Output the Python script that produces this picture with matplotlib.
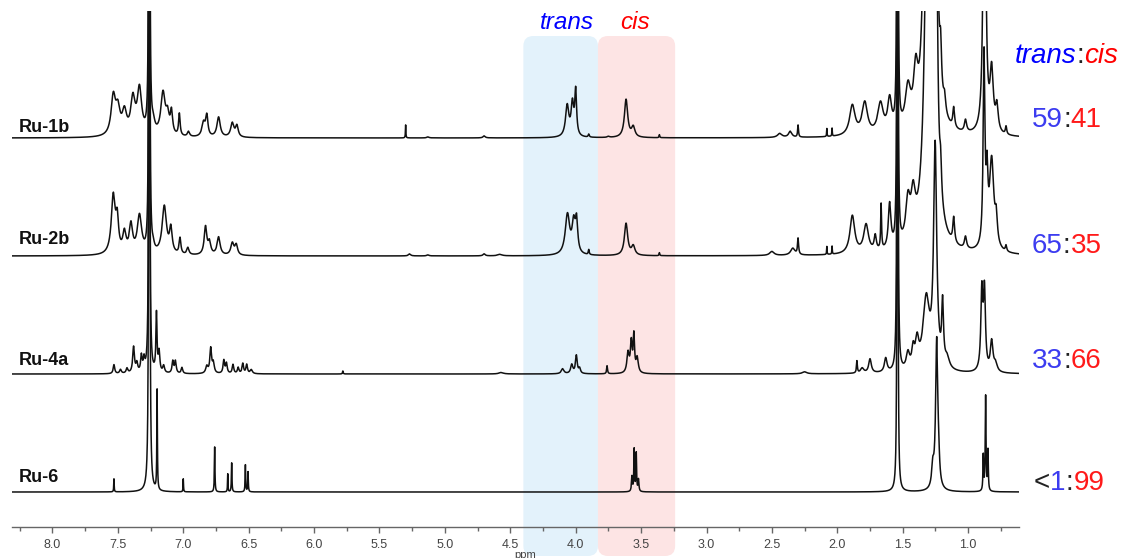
import numpy as np
import matplotlib
matplotlib.use("Agg")
import matplotlib.pyplot as plt
from matplotlib.patches import FancyBboxPatch
from matplotlib.ticker import MultipleLocator, FormatStrFormatter

plt.rcParams['font.family'] = ['Liberation Sans', 'DejaVu Sans']

# peak tables: shift (ppm), height (px above baseline), half width (ppm)
ru1b_ppm = [7.535, 7.50, 7.45, 7.385, 7.335, 7.26, 7.23, 7.155, 7.12, 7.09, 7.03, 6.96,
            6.845, 6.82, 6.73, 6.625, 6.59, 5.30, 5.13, 4.70, 4.065, 4.025, 4.000, 3.90, 3.75, 3.615,
            3.56, 3.36, 2.44, 2.36, 2.30, 2.08, 2.04, 1.885, 1.79, 1.67, 1.60, 1.54, 1.46, 1.40, 1.34,
            1.30, 1.255, 1.21, 1.18, 1.11, 1.02, 0.875, 0.82, 0.78, 0.71]
ru1b_height = [38, 24, 22, 35, 45, 4000, 10, 42, 18, 22, 22, 5,
               14, 20, 20, 14, 11, 13, 1, 2, 31, 32, 44, 3, 1, 38,
               10, 3, 4, 6, 12, 8, 8, 30, 32, 30, 32, 4000, 40, 50, 100,
               300, 500, 40, 15, 20, 12, 400, 60, 25, 8]
ru1b_width = [0.020, 0.020, 0.020, 0.020, 0.020, 0.0015, 0.015, 0.020, 0.015, 0.010, 0.007, 0.010,
              0.015, 0.010, 0.015, 0.015, 0.012, 0.002, 0.01, 0.01, 0.015, 0.012, 0.008, 0.005, 0.01, 0.015,
              0.015, 0.003, 0.02, 0.015, 0.004, 0.002, 0.002, 0.025, 0.025, 0.025, 0.018, 0.0015, 0.025, 0.02, 0.02,
              0.02, 0.015, 0.008, 0.01, 0.008, 0.01, 0.01, 0.015, 0.012, 0.006]

ru2b_ppm = [7.535, 7.505, 7.45, 7.40, 7.335, 7.26, 7.23, 7.145, 7.095, 7.025, 6.965,
            6.83, 6.80, 6.73, 6.625, 6.595, 5.27, 5.13, 4.70, 4.58, 4.063, 4.015, 3.993, 3.90, 3.615,
            3.56, 3.36, 2.50, 2.34, 2.30, 2.08, 2.04, 1.885, 1.78, 1.71, 1.665, 1.60, 1.54, 1.46, 1.42,
            1.30, 1.25, 1.21, 1.11, 1.02, 0.878, 0.855, 0.82, 0.785, 0.71]
ru2b_height = [58, 30, 20, 28, 38, 4000, 5, 48, 24, 16, 7,
               28, 12, 18, 12, 10, 2, 1, 2, 1.5, 40, 30, 30, 5, 32,
               9, 3, 4, 7, 16, 8, 8, 38, 28, 15, 45, 45, 4000, 40, 40,
               600, 600, 30, 25, 12, 190, 60, 90, 25, 6]
ru2b_width = [0.018, 0.012, 0.015, 0.015, 0.020, 0.0015, 0.010, 0.020, 0.012, 0.008, 0.010,
              0.012, 0.012, 0.014, 0.014, 0.012, 0.01, 0.01, 0.01, 0.02, 0.020, 0.015, 0.010, 0.004, 0.015,
              0.015, 0.003, 0.02, 0.02, 0.005, 0.002, 0.002, 0.022, 0.022, 0.01, 0.004, 0.012, 0.0015, 0.02, 0.02,
              0.025, 0.01, 0.008, 0.008, 0.01, 0.008, 0.008, 0.02, 0.01, 0.006]

ru4a_ppm = [7.53, 7.48, 7.43, 7.38, 7.355, 7.32, 7.30, 7.26, 7.205, 7.185, 7.15, 7.08, 7.06, 7.01, 6.82,
            6.79, 6.77, 6.69, 6.67, 6.62, 6.58, 6.545, 6.515, 6.48, 5.78, 4.57, 4.10, 4.03, 3.995, 3.97,
            3.76, 3.60, 3.575, 3.555, 3.53, 2.25, 1.85, 1.81, 1.75, 1.63, 1.54, 1.46, 1.42, 1.39, 1.32,
            1.252, 1.195, 1.16, 0.895, 0.875, 0.82, 0.79]
ru4a_height = [9, 4, 5, 26, 9, 16, 12, 4000, 58, 20, 7, 12, 12, 6, 7,
               25, 10, 13, 10, 9, 6, 10, 9, 4, 3, 1.5, 5, 9, 18, 5,
               8, 20, 30, 36, 15, 2, 12, 5, 14, 14, 4000, 16, 18, 25, 70,
               220, 60, 10, 78, 78, 30, 8]
ru4a_width = [0.007, 0.008, 0.008, 0.008, 0.008, 0.007, 0.007, 0.0015, 0.005, 0.007, 0.008, 0.007, 0.007, 0.007, 0.010,
              0.008, 0.008, 0.007, 0.007, 0.007, 0.007, 0.007, 0.007, 0.010, 0.003, 0.02, 0.012, 0.010, 0.008, 0.008,
              0.004, 0.010, 0.008, 0.006, 0.010, 0.02, 0.004, 0.015, 0.012, 0.012, 0.0015, 0.015, 0.012, 0.015, 0.03,
              0.014, 0.008, 0.02, 0.009, 0.009, 0.012, 0.015]

ru6_ppm = [7.53, 7.26, 7.20, 7.00, 6.76, 6.66, 6.63, 6.525, 6.505, 3.57, 3.553, 3.537, 3.52,
           1.54, 1.27, 1.24, 1.225, 0.884, 0.866, 0.848]
ru6_height = [13, 5000, 100, 13, 45, 18, 29, 27, 20, 15, 42, 38, 12,
              5000, 20, 150, 15, 35, 95, 40]
ru6_width = [0.002, 0.0015, 0.0025, 0.002, 0.0025, 0.002, 0.0025, 0.0025, 0.0025, 0.004, 0.003, 0.003, 0.004,
             0.0012, 0.01, 0.01, 0.008, 0.003, 0.0035, 0.003]

names = ['Ru-1b', 'Ru-2b', 'Ru-4a', 'Ru-6']
baselines = [389, 271, 153, 35]
trans_vals = ['59', '65', '33', '1']
cis_vals = ['41', '35', '66', '99']
prefixes = ['', '', '', '<']

peak_tables = [(ru1b_ppm, ru1b_height, ru1b_width),
               (ru2b_ppm, ru2b_height, ru2b_width),
               (ru4a_ppm, ru4a_height, ru4a_width),
               (ru6_ppm, ru6_height, ru6_width)]

ppm = np.arange(0.60, 8.33, 0.0005)


def spectrum(pos, h, w):
    y = np.zeros_like(ppm)
    for p, a, g in zip(pos, h, w):
        y += a / (1 + ((ppm - p) / g) ** 2)
    return y


W, H = 1123, 558
fig = plt.figure(figsize=(W / 100, H / 100), dpi=100)
ax = fig.add_axes([11.8 / W, 31 / H, 1007.2 / W, 516 / H])
ax.set_xlim(8.311, 0.611)
ax.set_ylim(0, 516)

px_per_ppm = 1007.2 / (8.311 - 0.611)
rad = 10 / px_per_ppm
for x0, x1, col in [(3.83, 4.40, '#e3f2fb'), (3.24, 3.83, '#fde4e4')]:
    box = FancyBboxPatch((x0, -29), x1 - x0, 520,
                         boxstyle=f"round,pad=0,rounding_size={rad}",
                         mutation_aspect=px_per_ppm, fc=col, ec='none',
                         zorder=0, clip_on=False)
    ax.add_patch(box)

for (pos, h, w), base in zip(peak_tables, baselines):
    ax.plot(ppm, spectrum(pos, h, w) + base, color='#111111', lw=1.1, zorder=2)

ax.text(4.067, 498, 'trans', ha='center', va='baseline', color='#0000ff',
        style='italic', fontsize=17.5)
ax.text(3.55, 498, 'cis', ha='center', va='baseline', color='#ff0000',
        style='italic', fontsize=17.5)

for s in ['left', 'right', 'top']:
    ax.spines[s].set_visible(False)
ax.spines['bottom'].set_color('#666666')
ax.spines['bottom'].set_linewidth(1.0)
ax.yaxis.set_visible(False)
ax.xaxis.set_major_locator(MultipleLocator(0.5))
ax.xaxis.set_minor_locator(MultipleLocator(0.25))
ax.xaxis.set_major_formatter(FormatStrFormatter('%.1f'))
ax.tick_params(axis='x', which='major', length=4, width=1, color='#666666',
               labelsize=9, labelcolor='#444444', pad=5)
ax.tick_params(axis='x', which='minor', length=3, width=1, color='#666666')
ax.set_xlabel('ppm', fontsize=8, color='#444444')
ax.xaxis.set_label_coords(0.5095, -0.044)

# sample names on the left
label_base = [132, 244, 365, 482]
for name, yb in zip(names, label_base):
    fig.text(19 / W, 1 - yb / H, name, fontsize=13, fontweight='bold',
             va='baseline', color='#111111')

renderer = fig.canvas.get_renderer()


def colored_text(x_px, y_px, parts, **kw):
    x = x_px / W
    for txt, col, style in parts:
        t = fig.text(x, 1 - y_px / H, txt, color=col, style=style,
                     va='baseline', **kw)
        x += t.get_window_extent(renderer).width / W


colored_text(1015, 63, [('trans', '#0000ff', 'italic'), (':', '#222222', 'normal'),
                        ('cis', '#ff0000', 'italic')], fontsize=20)

ratio_base = [127, 253, 368, 490]
for pre, tv, cv, yb in zip(prefixes, trans_vals, cis_vals, ratio_base):
    parts = []
    if pre:
        parts.append((pre, '#222222', 'normal'))
    parts += [(tv, '#3c3cf0', 'normal'), (':', '#222222', 'normal'), (cv, '#ff1a1a', 'normal')]
    x0 = 1032 if not pre else 1034
    colored_text(x0, yb, parts, fontsize=20)

fig.savefig('out.png', dpi=100)
